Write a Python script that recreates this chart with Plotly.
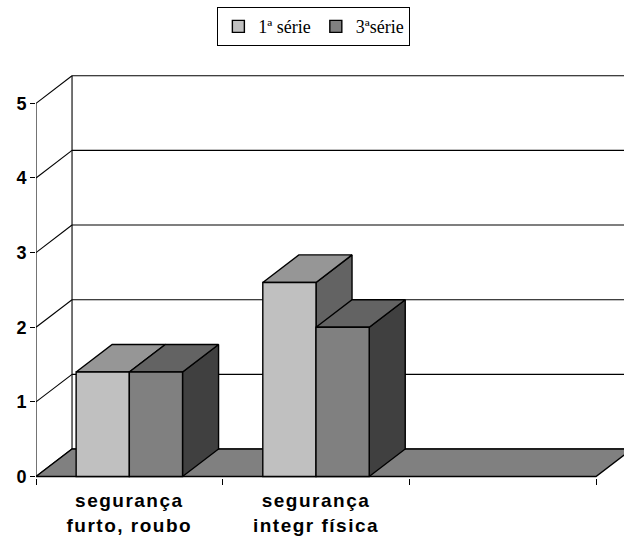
import plotly.graph_objects as go

# Category labels (third slot on the axis is an empty category)
categories = ["segurança<br>furto, roubo", "segurança<br>integr física", ""]
series_names = ["1ª série", "3ªsérie"]
serie_1 = [1.4, 2.6]
serie_3 = [1.4, 2.0]
y_ticks = [0, 1, 2, 3, 4, 5]

# Oblique 3-D projection: depth offset of the back wall in data units
DX = 0.193
DY = 0.369
BAR_GAP = 0.43
BAR_W = (1 - BAR_GAP) / 2
X_RANGE = [-0.5, 2.65]
Y_RANGE = [-0.02, 5.5]

front_colors = ["#c0c0c0", "#808080"]
top_colors = ["#969696", "#636363"]
side_colors = ["#636363", "#404040"]
FLOOR_COLOR = "#808080"
EDGE = dict(color="black", width=1.4)

n_cat = len(categories)
x_left = -0.5
x_right = n_cat - 0.5

fig = go.Figure()

# Back wall gridlines, left wall diagonals and the front value axis
wx, wy = [], []
for v in y_ticks:
    wx += [x_left + DX, x_right + DX, None]
    wy += [v + DY, v + DY, None]
    wx += [x_left, x_left + DX, None]
    wy += [v, v + DY, None]
wx += [x_left + DX, x_left + DX, None, x_left, x_left]
wy += [DY, max(y_ticks) + DY, None, 0, max(y_ticks)]
fig.add_trace(go.Scatter(x=wx, y=wy, mode="lines", line=dict(color="black", width=1.1),
                         hoverinfo="skip", showlegend=False))

# Floor
fig.add_trace(go.Scatter(
    x=[x_left, x_right, x_right + DX, x_left + DX, x_left],
    y=[0, 0, DY, DY, 0],
    mode="lines", fill="toself", fillcolor=FLOOR_COLOR, line=EDGE,
    hoverinfo="skip", showlegend=False))

series = [serie_1, serie_3]
offsets = [-BAR_W, 0.0]

# Side faces of the columns
for s, vals in enumerate(series):
    for c, v in enumerate(vals):
        x1 = c + offsets[s] + BAR_W
        fig.add_trace(go.Scatter(
            x=[x1, x1, x1 + DX, x1 + DX, x1],
            y=[0, v, v + DY, DY, 0],
            mode="lines", fill="toself", fillcolor=side_colors[s], line=EDGE,
            hoverinfo="skip", showlegend=False))

# Top faces of the columns
for s, vals in enumerate(series):
    for c, v in enumerate(vals):
        x0 = c + offsets[s]
        x1 = x0 + BAR_W
        fig.add_trace(go.Scatter(
            x=[x0, x1, x1 + DX, x0 + DX, x0],
            y=[v, v, v + DY, v + DY, v],
            mode="lines", fill="toself", fillcolor=top_colors[s], line=EDGE,
            hoverinfo="skip", showlegend=False))

# Front faces of the columns (overlay subplot, drawn above the faces)
for s, vals in enumerate(series):
    fig.add_trace(go.Bar(
        x=list(range(len(vals))), y=vals, width=BAR_W, offset=offsets[s],
        name=series_names[s], marker=dict(color=front_colors[s], line=EDGE),
        xaxis="x2", yaxis="y2"))

label_font = dict(family="Liberation Sans, Arial", size=19, color="black")
SPAN = '<b><span style="letter-spacing:1.5px">'
ticktext = [SPAN + t.replace("<br>", "</span></b><br>" + SPAN) + "</span></b>"
            if t else "" for t in categories]

fig.update_layout(
    width=624, height=549,
    margin=dict(l=36, r=0, t=66, b=71),
    paper_bgcolor="white", plot_bgcolor="white",
    barmode="overlay",
    showlegend=True,
    legend=dict(orientation="h", xref="container", yref="container",
                x=0.503, xanchor="center", y=0.987, yanchor="top",
                bordercolor="black", borderwidth=1, bgcolor="white",
                font=dict(family="Liberation Serif, Times New Roman", size=18, color="black"),
                itemwidth=30, traceorder="normal"),
    xaxis=dict(range=X_RANGE, tickmode="array", tickvals=list(range(n_cat)),
               ticktext=ticktext, ticks="", showgrid=False, zeroline=False,
               showline=False, tickfont=label_font, ticklabelstandoff=9,
               fixedrange=True),
    xaxis2=dict(range=X_RANGE, overlaying="x", side="bottom", tickmode="array",
                tickvals=[i - 0.5 for i in range(n_cat + 1)], ticks="outside",
                ticklen=6, tickcolor="black", tickwidth=1, showticklabels=False,
                showgrid=False, zeroline=False, showline=False),
    yaxis=dict(range=Y_RANGE, tickmode="array", tickvals=y_ticks,
               ticktext=["<b>%d</b>" % v for v in y_ticks],
               ticks="outside", ticklen=5, tickcolor="black", tickwidth=1,
               showgrid=False, zeroline=False, showline=False,
               tickfont=dict(family="Liberation Sans, Arial", size=18, color="black")),
    yaxis2=dict(range=Y_RANGE, overlaying="y", visible=False),
)

fig.write_html("out.html")
